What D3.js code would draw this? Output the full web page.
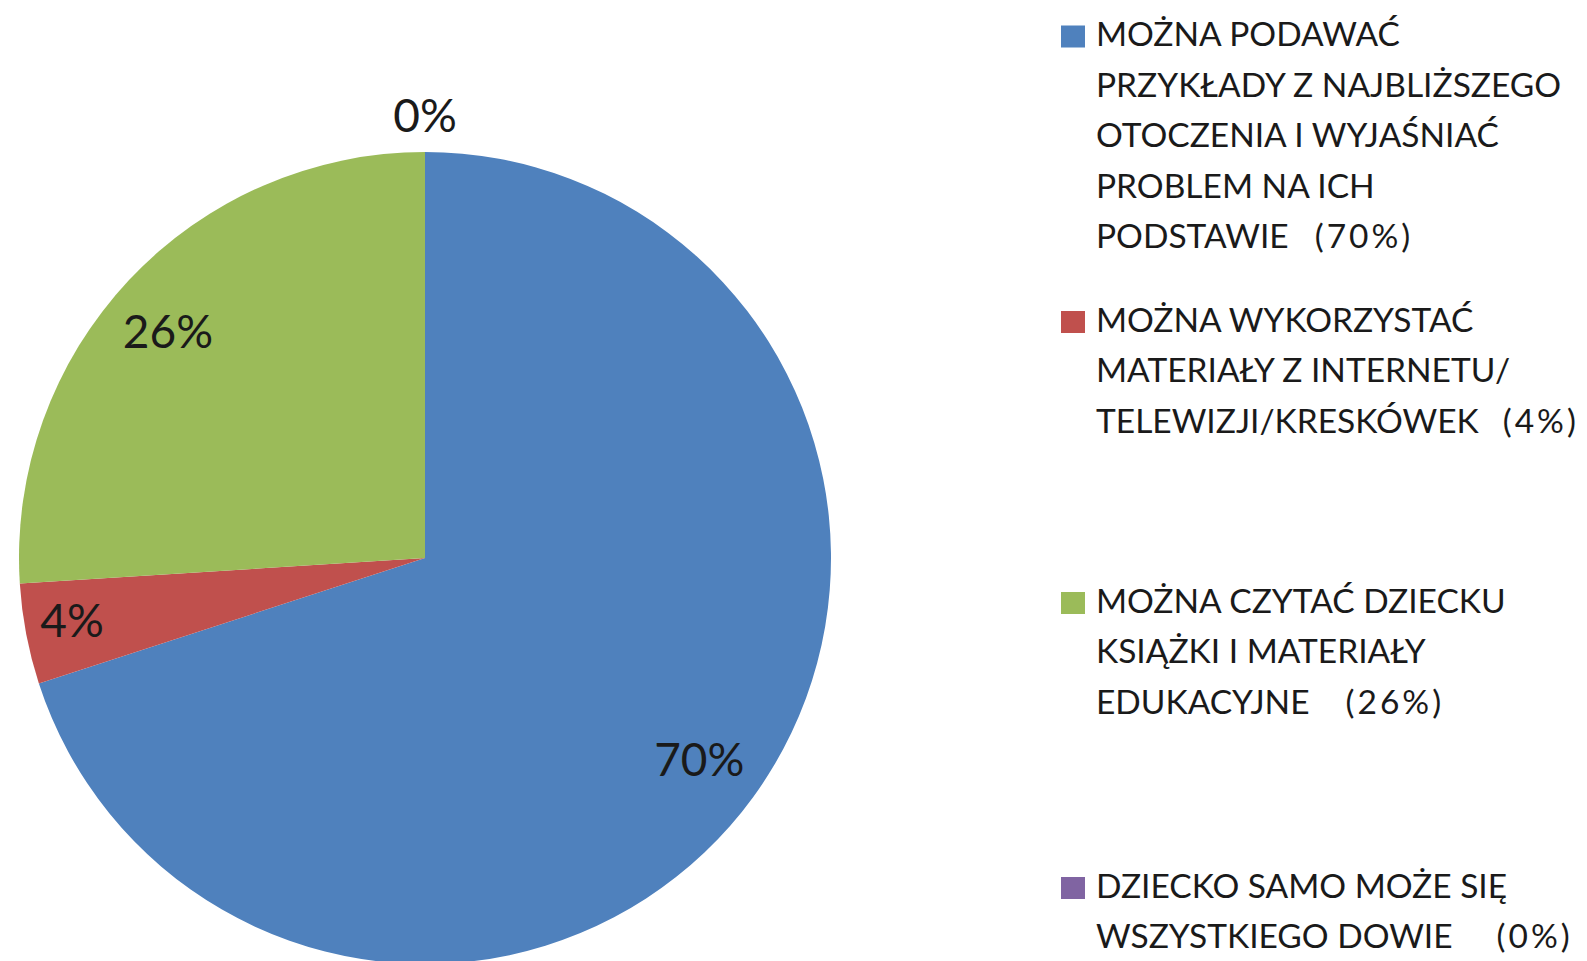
<!DOCTYPE html>
<html>
<head>
<meta charset="utf-8">
<script src="https://cdn.jsdelivr.net/npm/d3@7"></script>
<style>
  html, body { margin: 0; padding: 0; background: #ffffff; overflow: hidden; }
  svg { display: block; }
</style>
</head>
<body>
<svg id="chart" width="1587" height="961"></svg>
<script>
// ---- data ----
const categories = [
  "MOŻNA PODAWAĆ PRZYKŁADY Z NAJBLIŻSZEGO OTOCZENIA I WYJAŚNIAĆ PROBLEM NA ICH PODSTAWIE",
  "MOŻNA WYKORZYSTAĆ MATERIAŁY Z INTERNETU/ TELEWIZJI/KRESKÓWEK",
  "MOŻNA CZYTAĆ DZIECKU KSIĄŻKI I MATERIAŁY EDUKACYJNE",
  "DZIECKO SAMO MOŻE SIĘ WSZYSTKIEGO DOWIE"
];
const values = [70, 4, 26, 0];
const sliceLabels = ["70%", "4%", "26%", "0%"];
const legendLines = [
  ["MOŻNA PODAWAĆ", "PRZYKŁADY Z NAJBLIŻSZEGO", "OTOCZENIA I WYJAŚNIAĆ", "PROBLEM NA ICH", "PODSTAWIE"],
  ["MOŻNA WYKORZYSTAĆ", "MATERIAŁY Z INTERNETU/", "TELEWIZJI/KRESKÓWEK"],
  ["MOŻNA CZYTAĆ DZIECKU", "KSIĄŻKI I MATERIAŁY", "EDUKACYJNE"],
  ["DZIECKO SAMO MOŻE SIĘ", "WSZYSTKIEGO DOWIE"]
];
const legendPct = ["(70%)", "(4%)", "(26%)", "(0%)"];

// ---- styles / layout ----
const colors = ["#4F81BD", "#C0504D", "#9BBB59", "#8064A2"];
const cx = 425, cy = 558, R = 406;
const labelRadiusFactor = [0.835, 0.88, 0.845, 1.09];
const labelNudge = [[0, 3], [-2, -4], [-7, 9], [0, 0]];
const legendItemTop = [34.5, 320, 601, 886];
const legendLineGap = 50.5;
const pctGap = [26, 24, 36, 44];
const fontFamily = "Lato, 'Liberation Sans', sans-serif";

const svg = d3.select("#chart");

const pie = d3.pie().sort(null).value(d => d).startAngle(0).endAngle(2 * Math.PI);
const arcs = pie(values);
const arc = d3.arc().innerRadius(0).outerRadius(R);

const g = svg.append("g").attr("transform", `translate(${cx},${cy})`);

g.selectAll("path.slice")
  .data(arcs)
  .join("path")
  .attr("class", "slice")
  .attr("d", arc)
  .attr("fill", (d, i) => colors[i])
  .attr("stroke", "none");

g.selectAll("text.plabel")
  .data(arcs)
  .join("text")
  .attr("class", "plabel")
  .attr("transform", (d, i) => {
    const a = (d.startAngle + d.endAngle) / 2;
    const r = R * labelRadiusFactor[i];
    return `translate(${r * Math.sin(a) + labelNudge[i][0]},${-r * Math.cos(a) + labelNudge[i][1]})`;
  })
  .attr("text-anchor", "middle")
  .attr("dy", "0.35em")
  .attr("font-family", fontFamily)
  .attr("font-size", 46)
  .attr("fill", "#1a1a1a")
  .text((d, i) => sliceLabels[i]);

// ---- legend ----
const legend = svg.append("g");
const legendX = 1096;
const items = legend.selectAll("g.item")
  .data(categories)
  .join("g")
  .attr("class", "item")
  .attr("transform", (d, i) => `translate(0,${legendItemTop[i]})`);

items.append("rect")
  .attr("x", 1061)
  .attr("y", -9)
  .attr("width", 24)
  .attr("height", 22)
  .attr("fill", (d, i) => colors[i]);

items.each(function(d, i) {
  const sel = d3.select(this);
  const lines = legendLines[i];
  lines.forEach((ln, j) => {
    const t = sel.append("text")
      .attr("x", legendX)
      .attr("y", j * legendLineGap)
      .attr("dy", "0.35em")
      .attr("font-family", fontFamily)
      .attr("font-size", 33.5)
      .attr("fill", "#1a1a1a")
      .text(ln);
    if (j === lines.length - 1) {
      t.append("tspan")
        .attr("dx", pctGap[i])
        .attr("letter-spacing", 3)
        .text(legendPct[i]);
    }
  });
});
</script>
</body>
</html>
